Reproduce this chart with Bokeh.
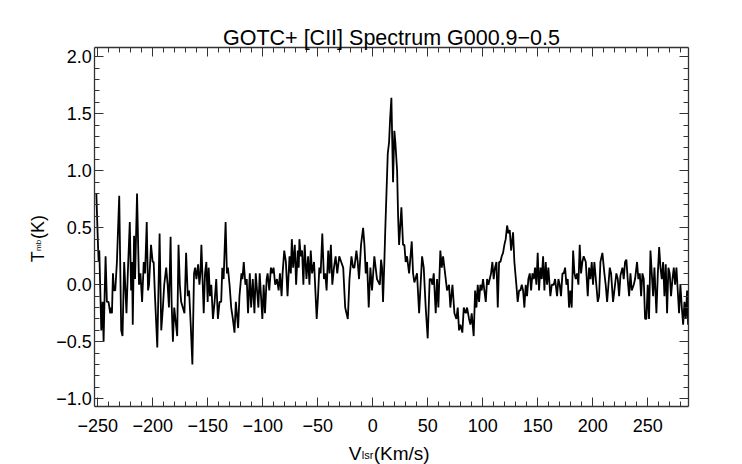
from math import pi

from bokeh.embed import file_html
from bokeh.models import (CustomJSTickFormatter, Label, LinearAxis, Range1d,
                          SingleIntervalTicker)
from bokeh.plotting import figure
from bokeh.resources import INLINE

# spectrum
velocity = [
    -251.2, -249.7, -249.1, -248.5, -246.7, -245.5, -244.6, -243.7, -242.8, -241.6,
    -240.1, -238.6, -237.7, -237.0, -236.1, -235.2, -234.0, -232.5, -230.4, -228.6,
    -227.4, -225.9, -223.8, -222.6, -220.8, -219.6, -218.7, -218.1, -216.9, -216.0,
    -214.2, -212.4, -211.1, -209.6, -208.1, -206.9, -205.4, -204.2, -203.3, -201.5,
    -200.0, -199.1, -197.9, -195.8, -193.7, -192.2, -190.7, -189.5, -187.7, -186.4,
    -185.2, -183.7, -182.8, -181.6, -180.4, -177.7, -176.5, -175.3, -174.1, -172.6,
    -171.1, -169.6, -168.1, -166.9, -165.4, -163.9, -162.4, -161.4, -160.2, -158.7,
    -157.5, -156.6, -155.7, -153.6, -152.4, -151.2, -150.0, -149.1, -147.9, -146.7,
    -145.2, -143.7, -142.2, -140.7, -139.2, -137.7, -136.7, -135.5, -133.7, -132.5,
    -131.6, -130.1, -128.6, -127.1, -125.6, -124.4, -122.3, -121.1, -119.3, -118.4,
    -117.2, -115.7, -114.5, -113.3, -111.7, -110.5, -109.0, -107.5, -106.3, -105.1,
    -103.9, -102.7, -100.3, -99.1, -97.9, -96.4, -95.5, -94.0, -92.5, -91.3,
    -90.1, -88.6, -87.0, -85.5, -84.3, -82.8, -81.9, -80.4, -78.9, -77.4,
    -75.6, -74.4, -73.5, -72.3, -70.8, -69.6, -68.1, -67.2, -66.6, -65.4,
    -64.2, -63.0, -61.8, -60.2, -58.7, -57.5, -56.3, -55.1, -53.3, -50.9,
    -49.7, -48.5, -47.3, -45.8, -44.3, -43.1, -41.9, -40.4, -39.2, -38.0,
    -36.7, -35.2, -33.7, -32.2, -30.4, -28.6, -26.8, -25.0, -22.6, -21.1,
    -19.3, -17.8, -16.6, -14.8, -13.6, -12.4, -10.6, -8.7, -7.5, -6.3,
    -5.1, -3.6, -2.1, -0.6, 1.5, 3.9, 6.5,
    7.6, 8.5, 9.4, 10.6, 11.5, 13.7, 14.9, 15.8, 17.0, 17.9,
    18.5, 19.7, 20.6, 22.2, 23.1, 24.0, 26.1, 27.6, 28.8, 30.0,
    31.2, 33.1, 35.5, 36.7, 37.9, 40.3, 42.2, 44.9, 46.4, 48.2,
    50.0, 51.8, 53.1, 54.3, 55.5, 57.3, 58.5, 59.7, 61.5, 62.8,
    64.0, 65.8, 67.6, 69.4, 70.6, 72.5, 74.3, 76.1, 77.3, 78.5,
    79.7, 81.5, 82.8, 84.6, 85.8, 87.6, 88.8, 90.0, 91.8, 93.1,
    94.3, 95.5, 96.7, 97.9, 99.1, 100.3, 101.5, 102.8, 104.0, 105.2,
    106.4, 107.6, 108.8, 110.0, 111.2, 112.5, 113.7, 114.9, 116.1, 117.3,
    118.5, 119.7, 120.9, 122.2, 123.4, 124.6, 125.8, 127.6, 128.8, 130.6,
    131.8, 133.1, 134.3, 135.5, 136.7, 137.9, 139.1, 140.3, 141.5, 142.8,
    144.0, 145.2, 146.4, 147.6, 148.8, 150.0, 151.2, 152.5, 153.7, 154.9,
    156.1, 157.3, 158.5, 159.7, 161.5, 162.8, 164.6, 165.8, 167.6, 168.8,
    170.0, 171.2, 172.5, 173.7, 174.9, 176.1, 177.3, 178.5, 179.7, 180.9,
    182.2, 183.4, 184.6, 185.8, 187.0, 188.2, 189.4, 190.6, 191.8, 193.7,
    195.5, 196.7, 197.9, 199.1, 200.3, 201.5, 204.6, 205.8, 207.0, 208.8,
    210.6, 211.8, 213.1, 214.3, 215.5, 216.7, 218.5, 219.7, 221.5, 222.8,
    224.0, 225.2, 227.0, 228.2, 229.4, 230.6, 231.8, 233.1, 234.3, 235.5,
    237.3, 238.5, 240.3, 241.5, 242.8, 244.0, 245.2, 246.4, 247.6, 248.8,
    250.0, 251.2, 252.5, 253.7, 254.9, 256.1, 257.9, 259.2, 260.4, 261.6,
    262.8, 264.0, 265.2, 266.4, 267.6, 268.8, 270.0, 271.2, 272.5, 273.7,
    274.9, 276.1, 277.3, 278.5, 279.7, 281.0, 282.2, 283.4, 284.6, 285.8, 286.7,
]

t_mb = [
    0.80, 0.35, 0.20, 0.30, -0.40, -0.15, -0.50, -0.10, 0.25, -0.15,
    -0.15, -0.25, -0.20, -0.25, 0.10, -0.05, -0.05, 0.20, 0.78, -0.40,
    -0.45, 0.20, -0.25, 0.10, 0.55, -0.05, 0.20, -0.35, 0.43, 0.05,
    0.80, 0.00, 0.10, -0.15, 0.20, 0.10, 0.55, -0.05, 0.00, 0.35,
    0.20, 0.20, -0.10, -0.55, 0.45, -0.40, -0.20, 0.00, 0.15, 0.00,
    -0.20, 0.42, -0.15, -0.50, -0.20, -0.45, 0.35, 0.00, -0.15, -0.20,
    -0.25, 0.28, -0.10, -0.05, -0.35, -0.70, 0.10, 0.15, 0.05, 0.18,
    0.00, 0.10, 0.35, -0.25, 0.10, 0.20, -0.15, 0.15, -0.10, 0.00,
    -0.30, -0.15, 0.05, -0.30, -0.15, -0.15, 0.15, 0.05, 0.55, 0.10,
    0.15, 0.00, -0.20, -0.30, -0.42, -0.15, -0.38, -0.10, 0.10, 0.05,
    0.20, 0.00, 0.05, -0.25, 0.10, -0.20, 0.05, -0.25, 0.10, -0.05,
    -0.20, 0.10, -0.30, 0.00, -0.25, 0.05, 0.10, -0.05, 0.15, 0.10,
    0.15, 0.00, 0.05, -0.05, 0.10, -0.10, 0.10, 0.30, 0.20, -0.10,
    0.25, 0.10, 0.40, 0.15, 0.35, 0.00, 0.30, 0.15, 0.40, 0.25,
    0.30, 0.00, 0.35, 0.05, 0.25, 0.00, 0.30, 0.10, 0.20, -0.30,
    -0.10, 0.15, 0.10, 0.45, 0.05, 0.10, -0.05, 0.30, 0.10, 0.35,
    0.00, 0.15, 0.25, 0.10, 0.25, 0.20, 0.15, -0.20, -0.30, 0.05,
    0.25, 0.15, 0.15, 0.30, 0.20, 0.05, 0.35, 0.50, 0.35, 0.10,
    0.20, -0.20, 0.15, -0.05, 0.25, 0.05, 0.00,
    0.22, 0.15, -0.15, 0.20, 0.50, 1.15, 1.25, 1.45, 1.64, 1.20,
    0.90, 1.35, 1.25, 1.00, 0.60, 0.35, 0.68, 0.35, 0.35, 0.20,
    0.25, 0.10, 0.38, 0.10, 0.02, 0.10, -0.25, 0.25, 0.15, -0.20,
    -0.47, 0.05, 0.05, 0.00, 0.10, -0.25, 0.05, -0.20, 0.30, 0.15,
    0.25, 0.10, -0.05, 0.00, -0.20, 0.00, -0.25, -0.30, -0.20, -0.40,
    -0.35, -0.42, -0.20, -0.25, -0.20, -0.30, -0.35, -0.25, -0.45, -0.05,
    -0.20, 0.00, -0.15, 0.00, -0.05, 0.05, -0.05, -0.15, 0.05, 0.00,
    0.05, 0.10, 0.20, 0.05, 0.15, 0.20, -0.20, 0.20, 0.20, 0.25,
    0.28, 0.35, 0.40, 0.52, 0.45, 0.48, 0.30, 0.46, 0.20, 0.00,
    -0.15, -0.05, -0.05, 0.00, -0.05, -0.20, 0.00, -0.10, 0.05, 0.10,
    -0.05, 0.10, 0.05, 0.15, 0.00, 0.28, -0.05, 0.15, 0.05, 0.25,
    -0.05, 0.20, 0.00, 0.15, -0.10, 0.00, 0.00, 0.05, -0.10, 0.05,
    0.00, -0.10, 0.10, 0.10, 0.15, 0.00, 0.05, -0.20, -0.05, -0.20,
    0.30, 0.10, 0.05, 0.10, 0.00, 0.35, 0.10, 0.20, 0.25, 0.20,
    -0.10, 0.15, 0.05, 0.20, 0.00, 0.20, -0.15, -0.10, 0.20, 0.28,
    0.10, 0.00, -0.15, 0.00, 0.15, 0.10, -0.15, -0.05, 0.10, 0.05,
    -0.10, 0.08, 0.15, 0.05, 0.20, 0.22, 0.05, -0.10, 0.10, -0.05,
    0.00, 0.05, 0.20, 0.05, 0.10, -0.10, 0.10, 0.05, -0.30, -0.30,
    0.00, -0.30, 0.30, 0.10, -0.10, 0.15, -0.25, 0.10, 0.33, 0.15,
    0.05, 0.20, -0.10, 0.18, -0.25, 0.15, 0.10, -0.10, 0.05, 0.15,
    0.00, 0.15, -0.05, -0.25, 0.00, -0.20, -0.35, -0.15, -0.30, -0.05, -0.35,
]

title = "GOTC+ [CII] Spectrum G000.9\u22120.5"

# plot box in data units and where it sits on the canvas (pixels)
X_LO, X_HI = -252.6, 286.8
Y_LO, Y_HI = -1.068, 2.084
W, H = 742, 464
BOX_L, BOX_R, BOX_T, BOX_B = 94.3, 687.7, 46.7, 406.0
FONT = "Liberation Sans"
INK = "#333333"

kx = (X_HI - X_LO) / (BOX_R - BOX_L)
ky = (Y_HI - Y_LO) / (BOX_B - BOX_T)


def at(px, py):
    """canvas pixel -> data coordinates"""
    return X_LO + (px - BOX_L) * kx, Y_HI - (py - BOX_T) * ky


# the frame fills the whole canvas; the axes are pinned to the plot box
p = figure(
    width=W, height=H, title=None,
    x_range=Range1d(X_LO - BOX_L * kx, X_HI + (W - BOX_R) * kx),
    y_range=Range1d(Y_LO - (H - BOX_B) * ky, Y_HI + BOX_T * ky),
    output_backend="svg", toolbar_location=None, min_border=0,
    x_axis_location=None, y_axis_location=None,
)
p.grid.visible = False
p.outline_line_color = None
p.background_fill_color = "white"
p.border_fill_color = "white"

x_fmt = CustomJSTickFormatter(code="return tick.toFixed(0).replace('-', '\\u2212');")
y_fmt = CustomJSTickFormatter(code="return tick.toFixed(1).replace('-', '\\u2212');")
blank = CustomJSTickFormatter(code="return '';")

axes = {
    "below": (Y_LO, x_fmt),
    "above": (Y_HI, blank),
    "left": (X_LO, y_fmt),
    "right": (X_HI, blank),
}
for side, (loc, fmt) in axes.items():
    if side in ("below", "above"):
        ticker = SingleIntervalTicker(interval=50, num_minor_ticks=5)
        bounds = (X_LO, X_HI)
    else:
        ticker = SingleIntervalTicker(interval=0.5, num_minor_ticks=5)
        bounds = (Y_LO, Y_HI)
    ax = LinearAxis(ticker=ticker, formatter=fmt, fixed_location=loc, bounds=bounds)
    ax.axis_line_color = INK
    ax.axis_line_width = 1.3
    ax.major_tick_line_color = INK
    ax.minor_tick_line_color = INK
    ax.major_tick_in = 9
    ax.major_tick_out = 0
    ax.minor_tick_in = 5
    ax.minor_tick_out = 0
    ax.major_label_text_font = FONT
    ax.major_label_text_font_size = "18px"
    ax.major_label_text_color = "black"
    p.add_layout(ax, side)
p.below[0].major_label_standoff = 12
p.left[0].major_label_standoff = 3

p.line(velocity, t_mb, line_color="black", line_width=1.8)

# title and axis titles (with subscripts) as text labels
pieces = [
    (title, 391, 37.3, "21.5px", 0, "center"),
    ("T", 37, 261.7, "18px", pi / 2, "left"),
    ("mb", 37.8, 250.5, "8px", pi / 2, "left"),
    ("(K)", 37, 238.5, "18px", pi / 2, "left"),
    ("V", 348.2, 452.5, "19px", 0, "left"),
    ("lsr", 361.2, 454.0, "11px", 0, "left"),
    ("(Km/s)", 373.2, 452.5, "19px", 0, "left"),
]
for text, px, py, size, angle, align in pieces:
    x, y = at(px, py)
    p.add_layout(Label(x=x, y=y, text=text, angle=angle,
                       text_font=FONT, text_font_size=size,
                       text_align=align, text_baseline="alphabetic",
                       text_color="black"))

open("out.html", "w").write(file_html(p, INLINE))
